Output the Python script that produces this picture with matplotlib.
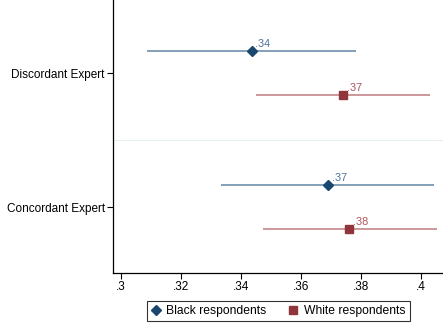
import matplotlib
matplotlib.use("Agg")
import matplotlib.pyplot as plt
from matplotlib.lines import Line2D

plt.rcParams["font.family"] = ["Liberation Sans", "DejaVu Sans"]

groups = ["Concordant Expert", "Discordant Expert"]
# point estimates and 95% CIs, ordered as in `groups`
black_est = [0.369, 0.3436]
black_lo = [0.3332, 0.3087]
black_hi = [0.4044, 0.3784]
white_est = [0.3761, 0.3741]
white_lo = [0.3473, 0.3451]
white_hi = [0.4052, 0.403]
black_lab = [".37", ".34"]
white_lab = [".38", ".37"]

xticks = [0.30, 0.32, 0.34, 0.36, 0.38, 0.40]
xticklabels = [".3", ".32", ".34", ".36", ".38", ".4"]

navy = "#1a476f"
maroon = "#90353b"
navy_ci = "#6f8fae"
maroon_ci = "#c4858a"

fig = plt.figure(figsize=(4.43, 3.23), dpi=100)
ax = fig.add_axes([0.255, 0.155, 0.745, 0.845])

off = 0.164
for i in range(len(groups)):
    yb = i + off
    yw = i - off
    ax.hlines(yb, black_lo[i], black_hi[i], color=navy_ci, lw=1.2, zorder=2)
    ax.hlines(yw, white_lo[i], white_hi[i], color=maroon_ci, lw=1.2, zorder=2)
    ax.plot(black_est[i], yb, marker="D", ms=5, color=navy, ls="none", zorder=3)
    ax.plot(white_est[i], yw, marker="s", ms=5.5, color=maroon, ls="none", zorder=3)
    ax.annotate(black_lab[i], (black_est[i], yb), xytext=(2.5, 1.5), textcoords="offset points",
                fontsize=7.8, color="#4f7299", ha="left", va="bottom")
    ax.annotate(white_lab[i], (white_est[i], yw), xytext=(2.5, 1.5), textcoords="offset points",
                fontsize=7.8, color="#b0545b", ha="left", va="bottom")

# separator between the two groups
ax.axhline(0.5, color="#e8eef1", lw=0.8, zorder=1)

ax.set_xlim(0.2973, 0.4073)
ax.set_ylim(-0.49, 1.545)
ax.set_xticks(xticks)
ax.set_xticklabels(xticklabels)
ax.set_yticks(range(len(groups)))
ax.set_yticklabels(groups)
ax.tick_params(axis="both", labelsize=8.5, length=4, width=0.8, color="black", pad=2)

for s in ["top", "right"]:
    ax.spines[s].set_visible(False)
for s in ["left", "bottom"]:
    ax.spines[s].set_linewidth(0.9)

handles = [
    Line2D([], [], marker="D", ms=5, color=navy, ls="none", label="Black respondents"),
    Line2D([], [], marker="s", ms=5.5, color=maroon, ls="none", label="White respondents"),
]
fig.legend(handles=handles, loc="upper center", bbox_to_anchor=(0.628, 0.088), ncol=2,
           fontsize=8.7, frameon=True, fancybox=False, edgecolor="black",
           handlelength=0.8, handletextpad=0.5, columnspacing=1.8,
           borderpad=0.35).get_frame().set_linewidth(0.8)

fig.savefig("out.png", dpi=100)
